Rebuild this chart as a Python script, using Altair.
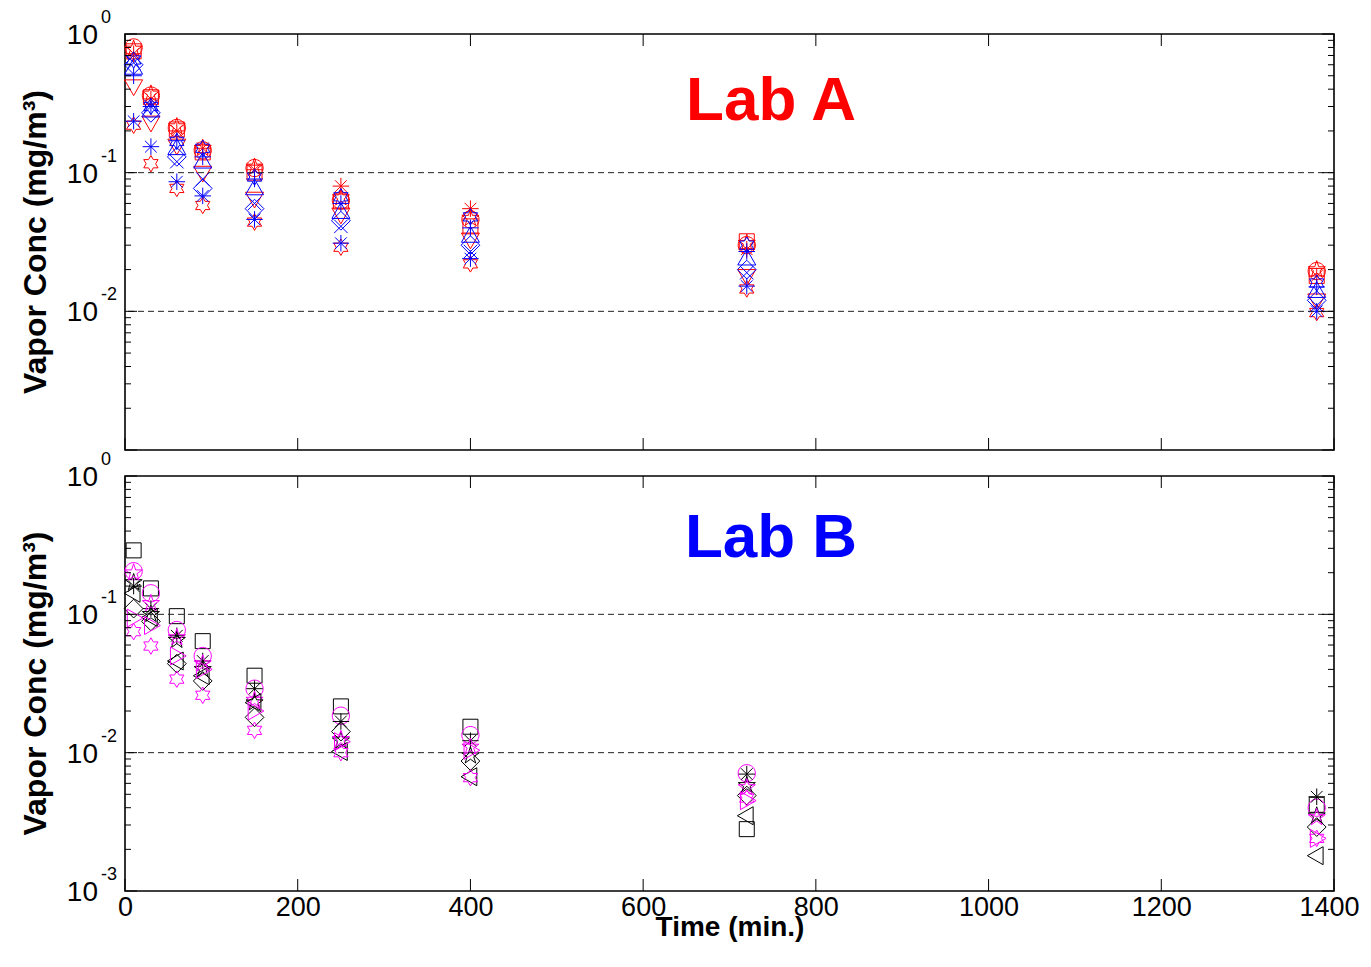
import altair as alt
import pandas as pd

# ---------------- data ----------------
T = [10, 30, 60, 90, 150, 250, 400, 720, 1380]

# Lab A (top panel)
a_red_square = [0.75, 0.35, 0.205, 0.14, 0.10, 0.062, 0.041, 0.032, 0.018]
a_red_circle = [0.80, 0.36, 0.21, 0.145, 0.108, 0.063, 0.046, 0.030, 0.0195]
a_red_pentagram = [0.78, 0.37, 0.215, 0.15, 0.11, 0.066, 0.047, 0.031, 0.020]
a_red_asterisk = [0.72, 0.34, 0.20, 0.15, 0.105, 0.080, 0.055, 0.028, 0.018]
a_red_tridown = [0.42, 0.23, 0.157, 0.10, 0.065, 0.050, 0.033, 0.018, 0.012]
a_red_hexagram = [0.22, 0.116, 0.077, 0.058, 0.044, 0.029, 0.022, 0.0145, 0.0098]
a_blue_triup = [0.57, 0.28, 0.15, 0.12, 0.077, 0.052, 0.035, 0.024, 0.014]
a_blue_asterisk = [0.235, 0.154, 0.086, 0.068, 0.046, 0.031, 0.024, 0.0152, 0.010]
a_blue_x = [0.62, 0.30, 0.12, 0.09, 0.060, 0.041, 0.027, 0.019, 0.011]
a_blue_hexagram = [0.65, 0.30, 0.168, 0.15, 0.093, 0.067, 0.048, 0.030, 0.016]
a_blue_plus = [0.50, 0.30, 0.17, 0.13, 0.090, 0.060, 0.040, 0.027, 0.015]
a_blue_diamond = [0.60, 0.27, 0.13, 0.077, 0.055, 0.045, 0.030, 0.020, 0.012]

# Lab B (bottom panel)
b_black_square = [0.29, 0.154, 0.097, 0.064, 0.036, 0.0216, 0.0154, 0.0028, 0.0042]
b_mag_circle = [0.205, 0.142, 0.077, 0.050, 0.029, 0.0185, 0.0134, 0.0071, 0.0040]
b_black_asterisk = [0.16, 0.11, 0.070, 0.046, 0.029, 0.0168, 0.0122, 0.0070, 0.0048]
b_black_pentagram = [0.17, 0.10, 0.065, 0.040, 0.023, 0.0122, 0.0095, 0.0058, 0.0035]
b_mag_pentagram = [0.20, 0.12, 0.068, 0.044, 0.024, 0.0125, 0.0110, 0.0056, 0.0034]
b_black_diamond = [0.11, 0.089, 0.044, 0.033, 0.018, 0.0142, 0.0087, 0.0049, 0.0029]
b_black_trileft = [0.142, 0.095, 0.046, 0.036, 0.023, 0.0102, 0.0067, 0.0035, 0.0018]
b_mag_triright = [0.094, 0.083, 0.050, 0.040, 0.020, 0.0120, 0.0104, 0.0045, 0.0024]
b_mag_hexagram = [0.075, 0.059, 0.034, 0.026, 0.0145, 0.0100, 0.0066, 0.0047, 0.0024]

# tick values / labels
x_tick_values = [0, 200, 400, 600, 800, 1000, 1200, 1400]
y_major = [1, 0.1, 0.01, 0.001]
y_minor = [k * 10.0 ** e for e in (-3, -2, -1) for k in range(2, 10)]
top_label_vals = [1, 0.1, 0.01]
top_label_exps = ["0", "-1", "-2"]
bot_label_vals = [1, 0.1, 0.01, 0.001]
bot_label_exps = ["0", "-1", "-2", "-3"]

# ---------------- marker shapes (SVG paths) ----------------
P = {
    "square": "M-1,-1H1V1H-1Z",
    "circle": "M1.15,0A1.15,1.15,0,1,1,-1.15,0A1.15,1.15,0,1,1,1.15,0Z",
    "diamond": "M0,-1.25L1.25,0L0,1.25L-1.25,0Z",
    "triup": "M0,-1.25L1.2,0.85L-1.2,0.85Z",
    "tridown": "M0,1.25L1.2,-0.85L-1.2,-0.85Z",
    "trileft": "M-1.25,0L0.85,-1.2L0.85,1.2Z",
    "triright": "M1.25,0L-0.85,-1.2L-0.85,1.2Z",
    "asterisk": "M0,-1.1L0,1.1M-1.1,0L1.1,0M-0.78,-0.78L0.78,0.78M-0.78,0.78L0.78,-0.78",
    "x": "M-0.9,-0.9L0.9,0.9M-0.9,0.9L0.9,-0.9",
    "plus": "M0,-1.1L0,1.1M-1.1,0L1.1,0",
    "hexagram": "M0,-1.1L0.318,-0.55L0.953,-0.55L0.635,0L0.953,0.55L0.318,0.55L0,1.1"
                "L-0.318,0.55L-0.953,0.55L-0.635,0L-0.953,-0.55L-0.318,-0.55Z",
    "pentagram": "M0,-1.2L0.269,-0.371L1.141,-0.371L0.436,0.142L0.706,0.971L0,0.458"
                 "L-0.706,0.971L-0.436,0.142L-1.141,-0.371L-0.269,-0.371Z",
}

RED, BLUE, BLACK, MAG = "#FF0000", "#0000FF", "#000000", "#FF00FF"

top_series = [
    ("A red square", a_red_square, "square", RED),
    ("A red circle", a_red_circle, "circle", RED),
    ("A red pentagram", a_red_pentagram, "pentagram", RED),
    ("A red asterisk", a_red_asterisk, "asterisk", RED),
    ("A red tridown", a_red_tridown, "tridown", RED),
    ("A red hexagram", a_red_hexagram, "hexagram", RED),
    ("A blue triup", a_blue_triup, "triup", BLUE),
    ("A blue asterisk", a_blue_asterisk, "asterisk", BLUE),
    ("A blue x", a_blue_x, "x", BLUE),
    ("A blue hexagram", a_blue_hexagram, "hexagram", BLUE),
    ("A blue plus", a_blue_plus, "plus", BLUE),
    ("A blue diamond", a_blue_diamond, "diamond", BLUE),
]
bot_series = [
    ("B black square", b_black_square, "square", BLACK),
    ("B mag circle", b_mag_circle, "circle", MAG),
    ("B black asterisk", b_black_asterisk, "asterisk", BLACK),
    ("B black pentagram", b_black_pentagram, "pentagram", BLACK),
    ("B mag pentagram", b_mag_pentagram, "pentagram", MAG),
    ("B black diamond", b_black_diamond, "diamond", BLACK),
    ("B black trileft", b_black_trileft, "trileft", BLACK),
    ("B mag triright", b_mag_triright, "triright", MAG),
    ("B mag hexagram", b_mag_hexagram, "hexagram", MAG),
]

FONT = "Liberation Sans"
W = 1209
H1 = 416
H2 = 415

xs = alt.Scale(domain=[0, 1400], nice=False, zero=False)
ys = alt.Scale(type="log", domain=[0.001, 1], nice=False)


def long_df(series):
    rows = []
    for name, vals, _, _ in series:
        for t, v in zip(T, vals):
            rows.append({"t": t, "v": v, "s": name})
    return pd.DataFrame(rows)


def panel(series, H, lab, labcolor, label_vals, label_exps, show_x):
    df = long_df(series)
    names = [s[0] for s in series]
    shapes = [P[s[2]] for s in series]
    colors = [s[3] for s in series]
    if show_x:
        xaxis = alt.Axis(values=x_tick_values, format="d", labelFontSize=27, labelFont=FONT,
                         labelColor="black", ticks=False, domain=False, grid=False,
                         labelPadding=3, labelFlush=False,
                         labelOffset={"condition": {"test": "datum.value == 1400", "value": -5},
                                      "value": 0},
                         title="Time (min.)",
                         titleFontSize=28, titleFont=FONT, titleFontWeight="bold",
                         titleColor="black", titlePadding=-7)
    else:
        xaxis = None

    pts = alt.Chart(df).mark_point(filled=False, size=225, strokeWidth=1, opacity=1).encode(
        x=alt.X("t:Q", scale=xs, axis=xaxis),
        y=alt.Y("v:Q", scale=ys, axis=None),
        shape=alt.Shape("s:N", scale=alt.Scale(domain=names, range=shapes), legend=None),
        color=alt.Color("s:N", scale=alt.Scale(domain=names, range=colors), legend=None),
    )

    grid = alt.Chart(pd.DataFrame({"g": [0.1, 0.01]})).mark_rule(
        strokeDash=[6, 4], color="#222222", strokeWidth=1
    ).encode(y=alt.Y("g:Q", scale=ys, axis=None))

    ymaj = pd.DataFrame({"v": y_major})
    ymin = pd.DataFrame({"v": y_minor})
    xt = pd.DataFrame({"v": x_tick_values})

    def yt(d, x0, x1):
        return alt.Chart(d).mark_rule(color="black", strokeWidth=1).encode(
            y=alt.Y("v:Q", scale=ys, axis=None), x=alt.value(x0), x2=alt.value(x1))

    def xtk(y0, y1):
        return alt.Chart(xt).mark_rule(color="black", strokeWidth=1).encode(
            x=alt.X("v:Q", scale=xs, axis=xaxis), y=alt.value(y0), y2=alt.value(y1))

    ticks = [yt(ymaj, 0, 12), yt(ymin, 0, 6), yt(ymaj, W, W - 12), yt(ymin, W, W - 6),
             xtk(0, 12), xtk(H, H - 12)]

    ldf = pd.DataFrame({"v": label_vals, "e": label_exps})
    ten = alt.Chart(ldf).mark_text(align="right", baseline="middle", fontSize=28, font=FONT,
                                   color="black", dy=2).encode(
        x=alt.value(-27), y=alt.Y("v:Q", scale=ys, axis=None), text=alt.value("10"))
    expo = alt.Chart(ldf).mark_text(align="left", baseline="middle", fontSize=18, font=FONT,
                                    color="black", dy=-16).encode(
        x=alt.value(-24), y=alt.Y("v:Q", scale=ys, axis=None), text="e:N")

    one = pd.DataFrame({"a": [0]})
    ytitle = alt.Chart(one).mark_text(angle=270, align="center", baseline="middle",
                                      fontSize=32, font=FONT, fontWeight="bold",
                                      color="black").encode(
        x=alt.value(-89), y=alt.value(H / 2), text=alt.value("Vapor Conc (mg/m³)"))
    labtxt = alt.Chart(one).mark_text(align="center", baseline="middle", fontSize=62,
                                      font=FONT, fontWeight="bold", color=labcolor).encode(
        x=alt.value(646), y=alt.value(67 if lab == "Lab A" else 62), text=alt.value(lab))

    return alt.layer(pts, grid, *ticks, ten, expo, ytitle, labtxt).properties(
        width=W, height=H, view=alt.ViewBackground(stroke="black", strokeWidth=1.6))


top = panel(top_series, H1, "Lab A", RED, top_label_vals, top_label_exps, False)
bot = panel(bot_series, H2, "Lab B", BLUE, bot_label_vals, bot_label_exps, True)

chart = alt.vconcat(top, bot, spacing=26, bounds="flush").resolve_scale(
    shape="independent", color="independent"
).properties(
    padding={"left": 11, "top": 0, "right": 0, "bottom": 0}
).configure_view(stroke="black", strokeWidth=1.6).configure(font=FONT)

chart.save("out.html", embed_options={"renderer": "svg", "actions": False})
